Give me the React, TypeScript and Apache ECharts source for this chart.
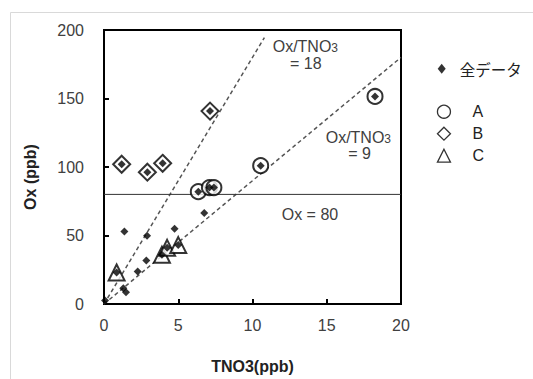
import React, { useEffect, useRef } from "react";
import * as echarts from "echarts";

// Ox vs TNO3 observations (ppb)
const plainPoints: [number, number][] = [
  [0.07, 2.5], [1.3, 11.5], [1.48, 8.5], [1.37, 53], [2.27, 23.7],
  [2.85, 31.7], [2.9, 49.8], [4.75, 55], [6.75, 66.5],
];
const groupA: [number, number][] = [
  [6.35, 82], [7.1, 85], [7.4, 85], [10.55, 101], [18.25, 151.5],
];
const groupB: [number, number][] = [
  [1.19, 102], [2.92, 96.2], [3.95, 102.7], [7.14, 140.8],
];
const groupC: [number, number][] = [
  [0.85, 23], [3.9, 36], [4.25, 41], [5.0, 43],
];
const allData = [...plainPoints, ...groupA, ...groupB, ...groupC];

const ratio18Line: [number, number][] = [[0, 0], [10.8, 194.4]];
const ratio9Line: [number, number][] = [[0, 0], [20, 180]];
const ox80Line: [number, number][] = [[0, 80], [20, 80]];

const xTicks = { min: 0, max: 20, interval: 5 };
const yTicks = { min: 0, max: 200, interval: 50 };

const FONT = "'Liberation Sans', Arial, sans-serif";
const TXT = "#404040";

export default function App() {
  const ref = useRef<HTMLDivElement>(null);
  useEffect(() => {
    if (!ref.current) return;
    const chart = echarts.init(ref.current, undefined, { renderer: "svg" });
    const openMarker = { color: "#fff", borderColor: "#000", borderWidth: 2 };
    chart.setOption({
      animation: false,
      backgroundColor: "#fff",
      textStyle: { fontFamily: FONT },
      grid: {
        left: 104, top: 30, width: 297, height: 276,
        show: true, borderColor: "#000", borderWidth: 2,
      },
      xAxis: {
        type: "value", ...xTicks,
        name: "TNO3(ppb)", nameLocation: "middle", nameGap: 54,
        nameTextStyle: { fontSize: 16, fontWeight: "bold", color: "#222", fontFamily: FONT },
        axisLine: { show: false },
        axisTick: { inside: true, length: 5, lineStyle: { color: "#000", width: 2 } },
        axisLabel: { fontSize: 16, color: TXT, margin: 13, fontFamily: FONT },
        splitLine: { show: false },
      },
      yAxis: {
        type: "value", ...yTicks,
        name: "Ox (ppb)", nameLocation: "middle", nameGap: 66, nameRotate: 90,
        nameTextStyle: { fontSize: 16, fontWeight: "bold", color: "#222", fontFamily: FONT, padding: [0, 20, 0, 0] },
        axisLine: { show: false },
        axisTick: { inside: true, length: 5, lineStyle: { color: "#000", width: 2 } },
        axisLabel: { fontSize: 16, color: TXT, margin: 20, fontFamily: FONT },
        splitLine: { show: false },
      },
      legend: [
        {
          data: ["全データ"], orient: "vertical", left: 437.7, top: 61, padding: 0,
          itemWidth: 8, itemHeight: 10,
          textStyle: { fontSize: 15.5, color: "#222", fontFamily: "'Noto Sans CJK JP', sans-serif", padding: [0, 0, 0, 9] },
        },
        {
          data: ["A", "B", "C"], orient: "vertical", left: 436.8, top: 103.7, padding: 0,
          itemWidth: 13, itemHeight: 13, itemGap: 6,
          itemStyle: { borderWidth: 1.3 },
          textStyle: { fontSize: 16, color: "#222", fontFamily: FONT, padding: [0, 0, 0, 17] },
        },
      ],
      series: [
        { type: "line", data: ratio18Line, symbol: "none", silent: true, z: 1,
          lineStyle: { color: "#555", width: 1.5, type: [4, 3] } },
        { type: "line", data: ratio9Line, symbol: "none", silent: true, z: 1,
          lineStyle: { color: "#555", width: 1.5, type: [4, 3] } },
        { type: "line", data: ox80Line, symbol: "none", silent: true, z: 1,
          lineStyle: { color: "#333", width: 1, type: "solid" } },
        { name: "A", type: "scatter", data: groupA, symbol: "circle", symbolSize: 15, itemStyle: openMarker, z: 2 },
        { name: "B", type: "scatter", data: groupB, symbol: "diamond", symbolSize: 17, itemStyle: openMarker, z: 2 },
        { name: "C", type: "scatter", data: groupC, symbol: "triangle", symbolSize: 16, itemStyle: openMarker, z: 2 },
        { name: "全データ", type: "scatter", data: allData, symbol: "diamond", symbolSize: 8,
          itemStyle: { color: "#000" }, z: 3 },
      ],
      graphic: [
        { type: "rect", silent: true, z: -1,
          shape: { x: 10.5, y: 12.5, width: 700, height: 700 },
          style: { fill: "none", stroke: "#d9d9d9", lineWidth: 1 } },
        { type: "text", x: 272.7, y: 46, z: 10,
          style: { text: "Ox/TNO{s|3}", font: `16px ${FONT}`, fill: TXT, verticalAlign: "middle",
            rich: { s: { fontSize: 12, fontFamily: FONT, fill: TXT, verticalAlign: "bottom" } } } },
        { type: "text", x: 290, y: 63.3, z: 10,
          style: { text: "= 18", font: `16px ${FONT}`, fill: TXT, verticalAlign: "middle" } },
        { type: "text", x: 325.7, y: 137, z: 10,
          style: { text: "Ox/TNO{s|3}", font: `16px ${FONT}`, fill: TXT, verticalAlign: "middle",
            rich: { s: { fontSize: 12, fontFamily: FONT, fill: TXT, verticalAlign: "bottom" } } } },
        { type: "text", x: 348.3, y: 153, z: 10,
          style: { text: "= 9", font: `16px ${FONT}`, fill: TXT, verticalAlign: "middle" } },
        { type: "text", x: 281.7, y: 214, z: 10,
          style: { text: "Ox = 80", font: `16px ${FONT}`, fill: TXT, verticalAlign: "middle" } },
      ],
    });
    return () => chart.dispose();
  }, []);
  return <div ref={ref} style={{ position: "fixed", left: 0, top: 0, width: 533, height: 379 }} />;
}
